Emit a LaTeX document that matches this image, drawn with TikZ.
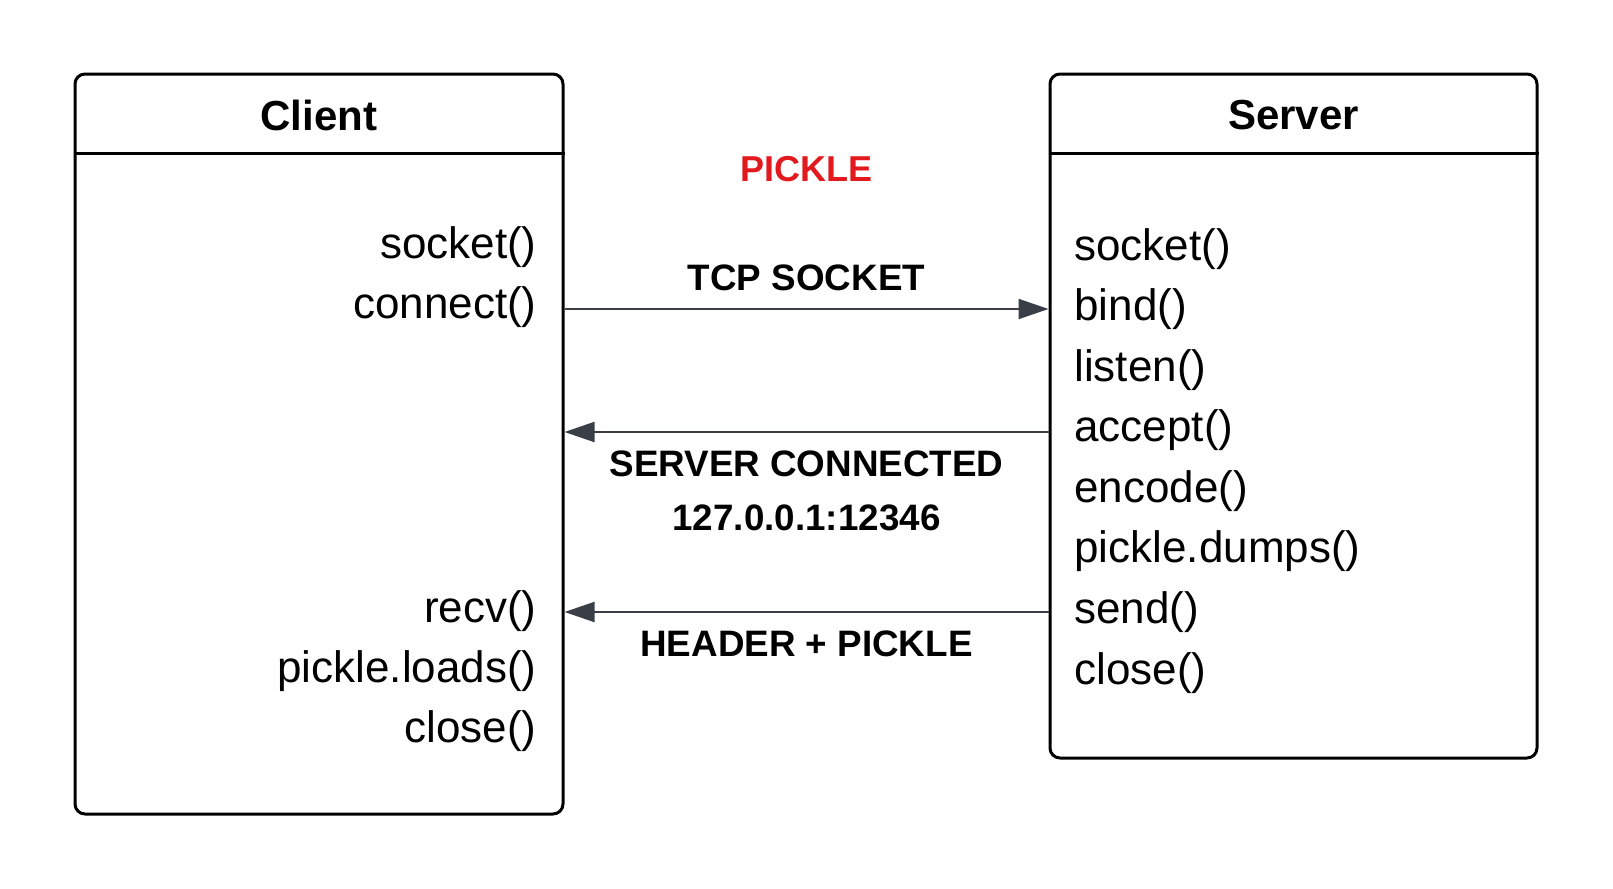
\documentclass[tikz,border=0pt]{standalone}
\usepackage{fontspec}
\setmainfont{Liberation Sans}
\usepackage{xcolor}
\usepackage{tikz}
\usetikzlibrary{arrows.meta}
\usetikzlibrary{positioning}

\definecolor{arrowgray}{RGB}{58,63,71}
\definecolor{picklered}{RGB}{226,26,30}

\tikzset{
  classbox/.style={draw, line width=1.5pt, rounded corners=5pt, inner sep=0pt},
  classtitle/.style={font=\fontsize{21}{25}\selectfont\bfseries},
  method/.style={font=\fontsize{22}{26}\selectfont, inner sep=0pt},
  msgarrow/.style={color=arrowgray, line width=1pt, -{Triangle[length=15pt,width=10pt]}},
  msglabel/.style={font=\fontsize{18.4}{27}\selectfont\bfseries, inner sep=0pt, align=center, text=black},
}

\begin{document}
\begin{tikzpicture}[x=0.5pt, y=-0.5pt]
    \useasboundingbox (0,0) rectangle (1613,889);

    % the two classes
    \node[classbox, minimum width=244pt, minimum height=370pt] (client) at (319,444) {};
    \node[classbox, minimum width=243.5pt, minimum height=342pt] (server) at (1293.5,416) {};

    \draw[line width=1.2pt] ([yshift=-40.5pt]client.north west) -- ([yshift=-40.5pt]client.north east);
    \draw[line width=1.2pt] ([yshift=-40.5pt]server.north west) -- ([yshift=-40.5pt]server.north east);

    \node[classtitle] (client-title) at ([yshift=-21.5pt]client.north) {Client};
    \node[classtitle] (server-title) at ([yshift=-21.5pt]server.north) {Server};

    % client calls
    \node[method, anchor=east] (c-socket) at (537,247) {socket()};
    \node[method, anchor=east] (c-connect) at (537,307) {connect()};
    \node[method, anchor=east] (c-recv) at (537,611) {recv()};
    \node[method, anchor=east] (c-loads) at (537,671) {pickle.loads()};
    \node[method, anchor=east] (c-close) at (537,731) {close()};

    % server calls
    \node[method, anchor=west] (s-socket) at (1074,249) {socket()};
    \node[method, anchor=west] (s-bind) at (1074,309) {bind()};
    \node[method, anchor=west] (s-listen) at (1074,370) {listen()};
    \node[method, anchor=west] (s-accept) at (1074,430) {accept()};
    \node[method, anchor=west] (s-encode) at (1074,491) {encode()};
    \node[method, anchor=west] (s-dumps) at (1074,551) {pickle.dumps()};
    \node[method, anchor=west] (s-send) at (1074,612) {send()};
    \node[method, anchor=west] (s-close) at (1074,673) {close()};

    \node[font=\fontsize{18}{22}\selectfont\bfseries, text=picklered] (pickle) at (806,169) {PICKLE};

    % messages
    \draw[msgarrow] ([yshift=-1pt]c-connect -| client.east) -- ([yshift=-1pt]c-connect -| server.west)
    node[msglabel, midway, above=8.5pt] {TCP SOCKET};
    \draw[msgarrow] ([yshift=-1pt]s-accept -| server.west) -- ([yshift=-1pt]s-accept -| client.east)
    node[msglabel, midway, below=9pt] {SERVER CONNECTED\\127.0.0.1:12346};
    \draw[msgarrow] (s-send -| server.west) -- (s-send -| client.east)
    node[msglabel, midway, below=9pt] {HEADER + PICKLE};
\end{tikzpicture}
\end{document}
